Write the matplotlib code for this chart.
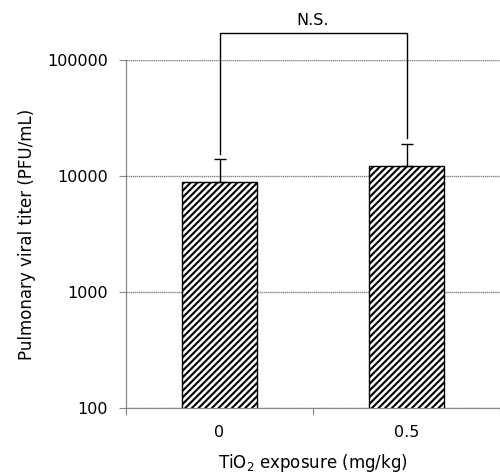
import matplotlib
matplotlib.use("Agg")
import matplotlib.pyplot as plt

categories = ["0", "0.5"]
titer = [8870, 12200]
titer_err_top = [14000, 18900]
label_ns = "N.S."

plt.rcParams['font.family'] = ['DejaVu Sans']
plt.rcParams['hatch.linewidth'] = 1.5

fig = plt.figure(figsize=(5, 4.74), dpi=100)
ax = fig.add_axes([0.252, 0.139, 0.748, 0.734])

x = list(range(len(categories)))
err_up = [t - v for t, v in zip(titer_err_top, titer)]
err_lo = [0] * len(titer)
ax.bar(x, titer, width=0.4, color="white", edgecolor="black", hatch="/////",
       linewidth=1.0, zorder=3)
ax.errorbar(x, titer, yerr=[err_lo, err_up], fmt="none", ecolor="black",
            elinewidth=1.0, capsize=4, capthick=1.0, zorder=4)

ax.set_yscale("log")
ax.set_ylim(100, 100000)
ax.set_xlim(-0.5, 1.5)
ax.set_yticks([100, 1000, 10000, 100000])
ax.set_yticklabels(["100", "1000", "10000", "100000"])
ax.yaxis.set_minor_locator(matplotlib.ticker.NullLocator())
ax.grid(axis="y", color="#808080", linewidth=1.0, linestyle=(0, (1, 0.5)), zorder=0)

ax.set_xticks([-0.5, 0.5, 1.5])
ax.set_xticklabels([])
ax.set_xticks(x, minor=True)
ax.set_xticklabels(categories, minor=True)
ax.tick_params(axis="x", which="minor", length=0, pad=12, labelsize=11.5)
ax.tick_params(axis="x", which="major", length=5, color="#888888", width=0.8)
ax.tick_params(axis="y", length=5, color="#888888", width=0.8, labelsize=11.5, pad=8)

for side in ["top", "right"]:
    ax.spines[side].set_visible(False)
for side in ["left", "bottom"]:
    ax.spines[side].set_color("#888888")
    ax.spines[side].set_linewidth(0.9)

ax.set_ylabel("Pulmonary viral titer (PFU/mL)", fontsize=12, labelpad=8)
ax.set_xlabel("TiO$_2$ exposure (mg/kg)", fontsize=12, labelpad=9)

# significance bracket
top = 171000
ax.plot([x[0], x[0], x[1], x[1]],
        [titer_err_top[0] * 1.12, top, top, titer_err_top[1] * 1.12],
        color="black", linewidth=1.0, clip_on=False, zorder=5)
ax.text((x[0] + x[1]) / 2, top * 1.1, label_ns, ha="center", va="bottom",
        fontsize=11.5)

fig.savefig("out.png", dpi=100)
